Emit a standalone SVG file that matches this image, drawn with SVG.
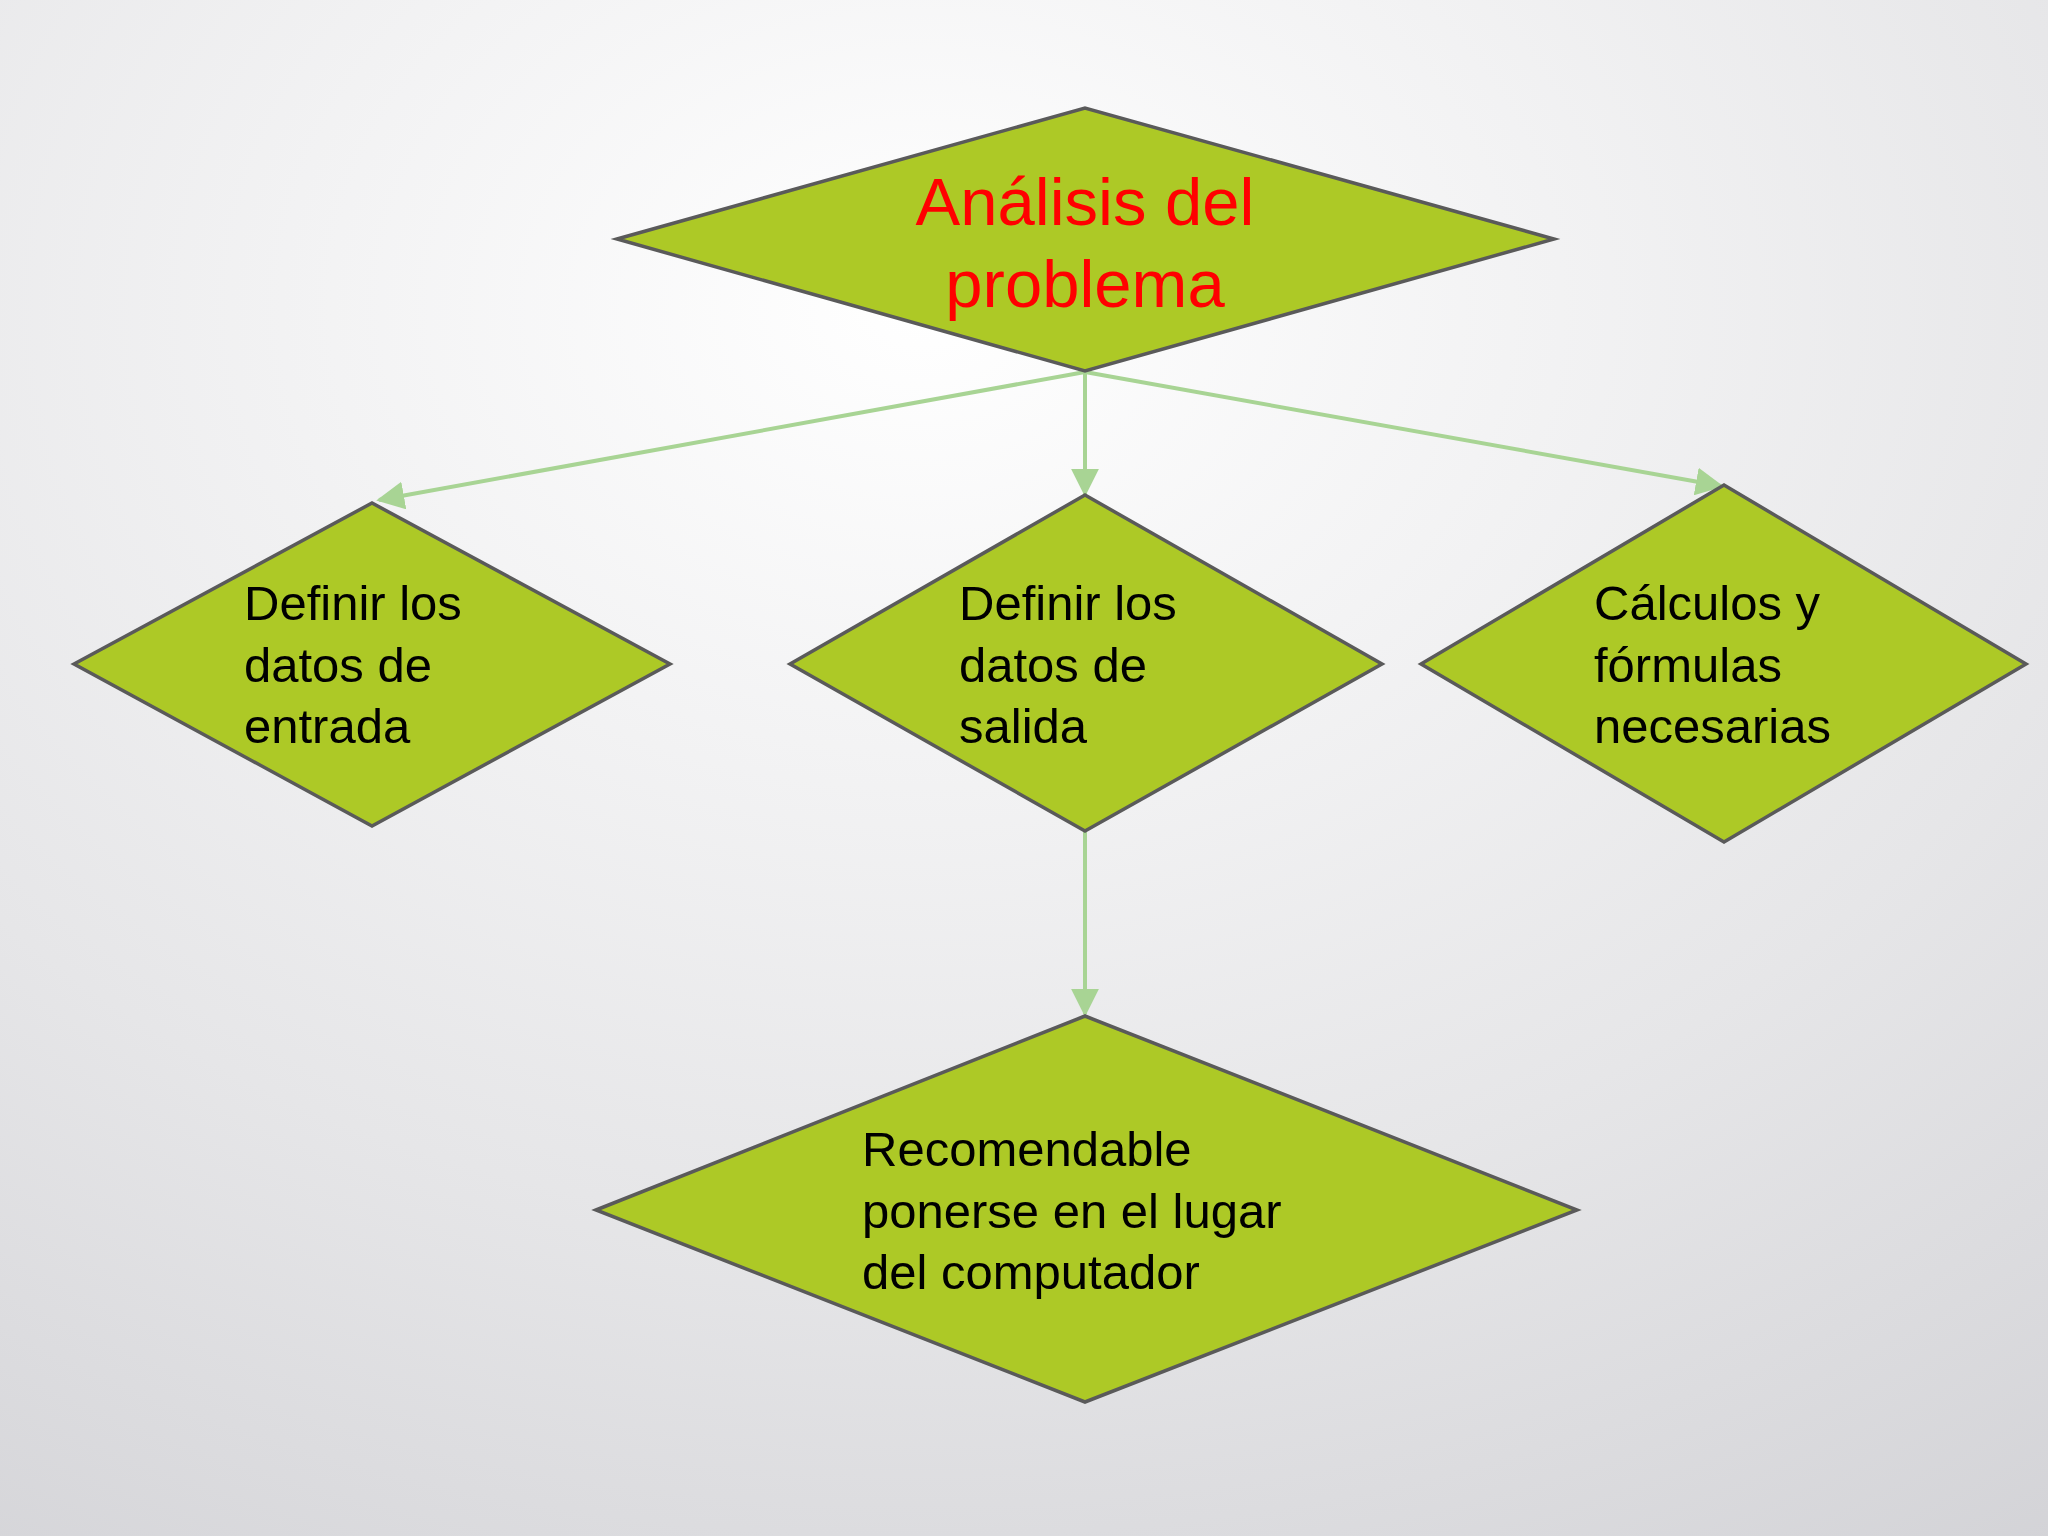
<svg xmlns="http://www.w3.org/2000/svg" width="2048" height="1536" viewBox="0 0 2048 1536">
<defs>
<radialGradient id="bg" cx="0.45" cy="0.2" r="1" gradientUnits="objectBoundingBox">
<stop offset="0" stop-color="#ffffff"/><stop offset="0.6" stop-color="#e6e6e8"/><stop offset="1" stop-color="#d2d2d6"/>
</radialGradient>
<marker id="ah" viewBox="0 0 10 10" refX="9" refY="5" markerWidth="7" markerHeight="7" orient="auto" markerUnits="strokeWidth">
<path d="M0,0 L10,5 L0,10 z" fill="#a8d494"/>
</marker>
<style>
.d{fill:#adc926;stroke:#5a5a5a;stroke-width:3.5}
.t{font-family:"Liberation Sans",Arial,sans-serif;font-size:49px;fill:#000}
.h{font-family:"Liberation Sans",Arial,sans-serif;font-size:67px;fill:#ff0000;text-anchor:middle}
.c{stroke:#a8d494;stroke-width:4;fill:none;marker-end:url(#ah)}
</style>
</defs>
<rect width="2048" height="1536" fill="url(#bg)"/>
<g id="connectors">
<line class="c" x1="1085" y1="372" x2="379" y2="500"/>
<line class="c" x1="1085" y1="372" x2="1085" y2="494"/>
<line class="c" x1="1085" y1="372" x2="1721" y2="486"/>
<line class="c" x1="1085" y1="831" x2="1085" y2="1014"/>
</g>
<g id="top">
<polygon class="d" points="617,239 1085,108 1554,239 1085,371"/>
<text class="h" x="1085" y="225">Análisis del</text>
<text class="h" x="1085" y="307">problema</text>
</g>
<g id="left">
<polygon class="d" points="74,664 372,503 670,664 372,826"/>
<text class="t" x="244" y="620">Definir los</text>
<text class="t" x="244" y="682">datos de</text>
<text class="t" x="244" y="743">entrada</text>
</g>
<g id="middle">
<polygon class="d" points="790,664 1085,495 1382,664 1085,831"/>
<text class="t" x="959" y="620">Definir los</text>
<text class="t" x="959" y="682">datos de</text>
<text class="t" x="959" y="743">salida</text>
</g>
<g id="right">
<polygon class="d" points="1421,664 1724,485 2026,664 1724,842"/>
<text class="t" x="1594" y="620">Cálculos y</text>
<text class="t" x="1594" y="682">fórmulas</text>
<text class="t" x="1594" y="743">necesarias</text>
</g>
<g id="bottom">
<polygon class="d" points="596,1210 1085,1016 1577,1210 1085,1402"/>
<text class="t" x="862" y="1166">Recomendable</text>
<text class="t" x="862" y="1228">ponerse en el lugar</text>
<text class="t" x="862" y="1289">del computador</text>
</g>
</svg>
